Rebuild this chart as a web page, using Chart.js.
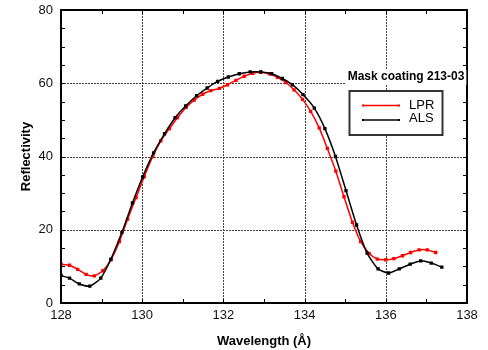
<!DOCTYPE html>
<html>
<head>
<meta charset="utf-8">
<script src="https://cdn.jsdelivr.net/npm/chart.js@4.4.1/dist/chart.umd.min.js"></script>
<style>
  html, body { margin: 0; padding: 0; background: #fff; }
  #wrap { width: 488px; height: 350px; }
</style>
</head>
<body>
<div id="wrap"><canvas id="chart-reflectivity" width="488" height="350"></canvas></div>
<script>
// values
const lprWavelength = [
  128.00, 128.21, 128.41, 128.62, 128.82, 129.03, 129.23, 129.44, 129.64, 129.85,
  130.05, 130.26, 130.46, 130.67, 130.87, 131.08, 131.28, 131.49, 131.69, 131.90,
  132.10, 132.31, 132.51, 132.72, 132.92, 133.13, 133.33, 133.54, 133.74, 133.95,
  134.15, 134.36, 134.56, 134.77, 134.97, 135.18, 135.38, 135.59, 135.79, 136.00,
  136.20, 136.41, 136.61, 136.82, 137.02, 137.23,
];
const lprReflectivity = [
  10.6, 10.3, 9.2, 7.8, 7.4, 8.8, 11.8, 16.8, 22.9, 28.8,
  34.5, 40.0, 44.3, 47.6, 50.6, 53.4, 55.4, 57.0, 58.0, 58.6,
  59.6, 60.8, 61.9, 62.7, 63.0, 62.6, 61.6, 60.2, 58.2, 55.6,
  52.3, 47.8, 42.2, 36.0, 29.0, 22.0, 16.8, 13.5, 12.0, 11.8,
  12.1, 12.9, 13.8, 14.5, 14.5, 13.8,
];
const alsWavelength = [
  128.00, 128.21, 128.45, 128.71, 128.98, 129.23, 129.50, 129.76, 130.01, 130.28,
  130.55, 130.81, 131.07, 131.34, 131.60, 131.86, 132.12, 132.39, 132.66, 132.92,
  133.19, 133.45, 133.70, 133.96, 134.24, 134.50, 134.76, 135.02, 135.28, 135.54,
  135.81, 136.07, 136.33, 136.60, 136.86, 137.12, 137.38,
];
const alsReflectivity = [
  7.5, 6.8, 5.2, 4.6, 6.8, 12.0, 19.3, 27.3, 34.4, 41.0,
  46.2, 50.6, 53.8, 56.6, 58.7, 60.5, 61.7, 62.6, 63.1, 63.1,
  62.6, 61.3, 59.6, 56.9, 53.2, 47.6, 40.0, 30.7, 21.3, 13.6,
  9.3, 8.2, 9.3, 10.6, 11.5, 10.9, 9.8,
];
const xTickLabels = [128, 130, 132, 134, 136, 138];
const yTickLabels = [0, 20, 40, 60, 80];
const legendTitle = "Mask coating 213-03";
const seriesNames = ["LPR", "ALS"];
const seriesColors = ["#ff0000", "#000000"];

const FONT = "'Liberation Sans', Arial, sans-serif";

function toPoints(xs, ys) {
  return xs.map((x, i) => ({ x, y: ys[i] }));
}

// dotted grid, inward ticks, frame and the boxed legend
const framePlugin = {
  id: "frame",
  beforeDatasetsDraw(chart) {
    const { ctx, chartArea: a, scales: { x, y } } = chart;
    ctx.save();
    ctx.strokeStyle = "#444";
    ctx.lineWidth = 1;
    ctx.setLineDash([2, 1]);
    xTickLabels.slice(1, -1).forEach((v) => {
      const px = Math.round(x.getPixelForValue(v)) + 0.5;
      ctx.beginPath(); ctx.moveTo(px, a.top); ctx.lineTo(px, a.bottom); ctx.stroke();
    });
    yTickLabels.slice(1, -1).forEach((v) => {
      const py = Math.round(y.getPixelForValue(v)) + 0.5;
      ctx.beginPath(); ctx.moveTo(a.left, py); ctx.lineTo(a.right, py); ctx.stroke();
    });
    ctx.restore();
  },
  afterDatasetsDraw(chart) {
    const { ctx, chartArea: a, scales: { x, y } } = chart;
    ctx.save();
    ctx.strokeStyle = "#000";
    ctx.lineWidth = 1;
    const len = 4;
    for (let v = 129; v < 138; v++) {
      const px = Math.round(x.getPixelForValue(v)) + 0.5;
      ctx.beginPath();
      ctx.moveTo(px, a.bottom); ctx.lineTo(px, a.bottom - len);
      ctx.moveTo(px, a.top); ctx.lineTo(px, a.top + len);
      ctx.stroke();
    }
    for (let v = 5; v < 80; v += 5) {
      const py = Math.round(y.getPixelForValue(v)) + 0.5;
      ctx.beginPath();
      ctx.moveTo(a.left, py); ctx.lineTo(a.left + len, py);
      ctx.moveTo(a.right, py); ctx.lineTo(a.right - len, py);
      ctx.stroke();
    }
    ctx.lineWidth = 2;
    ctx.strokeRect(a.left, a.top, a.right - a.left, a.bottom - a.top);

    // legend title on a white patch
    ctx.font = "bold 12px " + FONT;
    ctx.textBaseline = "middle";
    ctx.textAlign = "center";
    const tw = ctx.measureText(legendTitle).width;
    ctx.fillStyle = "#fff";
    ctx.fillRect(406 - tw / 2 - 2, 70, tw + 4, 15);
    ctx.fillStyle = "#000";
    ctx.fillText(legendTitle, 406, 77);

    // legend box
    ctx.fillStyle = "#fff";
    ctx.fillRect(349.5, 91, 93, 44);
    ctx.strokeStyle = "#333";
    ctx.lineWidth = 2;
    ctx.strokeRect(349.5, 91, 93, 44);
    ctx.font = "13px " + FONT;
    ctx.textAlign = "left";
    [105.5, 120].forEach((ly, i) => {
      ctx.strokeStyle = seriesColors[i];
      ctx.fillStyle = seriesColors[i];
      ctx.lineWidth = 1.5;
      ctx.beginPath(); ctx.moveTo(363, ly); ctx.lineTo(399, ly); ctx.stroke();
      ctx.fillRect(362, ly - 1, 2, 2);
      ctx.fillRect(398, ly - 1, 2, 2);
      ctx.fillStyle = "#000";
      ctx.fillText(seriesNames[i], 409, ly - (i ? 1.5 : 0));
    });
    ctx.restore();
  },
};

new Chart(document.getElementById("chart-reflectivity"), {
  type: "line",
  data: {
    datasets: [
      {
        label: seriesNames[0],
        data: toPoints(lprWavelength, lprReflectivity),
        borderColor: seriesColors[0],
        backgroundColor: seriesColors[0],
        borderWidth: 1.5,
        pointStyle: "rect",
        pointRadius: 1.3,
        tension: 0.2,
        order: 2,
      },
      {
        label: seriesNames[1],
        data: toPoints(alsWavelength, alsReflectivity),
        borderColor: seriesColors[1],
        backgroundColor: seriesColors[1],
        borderWidth: 1.5,
        pointStyle: "rect",
        pointRadius: 1.3,
        tension: 0.2,
        order: 1,
      },
    ],
  },
  options: {
    responsive: false,
    animation: false,
    devicePixelRatio: 1,
    layout: { padding: { left: 0, top: 10, right: 21, bottom: 0 } },
    plugins: { legend: { display: false }, tooltip: { enabled: false } },
    scales: {
      x: {
        type: "linear",
        min: 128,
        max: 138,
        afterFit: (s) => { s.height = 47; s.paddingLeft = 0; s.paddingRight = 0; },
        grid: { display: false, drawTicks: false },
        border: { display: false },
        afterBuildTicks: (s) => { s.ticks = xTickLabels.map((v) => ({ value: v })); },
        ticks: { color: "#111", font: { family: FONT, size: 13 }, padding: 5, maxRotation: 0, autoSkip: false },
        title: { display: true, text: "Wavelength (Å)", color: "#000", font: { family: FONT, size: 13, weight: "bold" }, padding: { top: 0, bottom: 1 } },
      },
      y: {
        min: 0,
        max: 80,
        afterFit: (s) => { s.width = 61; s.paddingTop = 0; s.paddingBottom = 0; },
        grid: { display: false, drawTicks: false },
        border: { display: false },
        afterBuildTicks: (s) => { s.ticks = yTickLabels.map((v) => ({ value: v })); },
        ticks: { color: "#111", font: { family: FONT, size: 13 }, padding: 8, autoSkip: false },
        title: { display: true, text: "Reflectivity", color: "#000", font: { family: FONT, size: 13, weight: "bold" }, padding: { top: 19, bottom: 0 } },
      },
    },
  },
  plugins: [framePlugin],
});
</script>
</body>
</html>
